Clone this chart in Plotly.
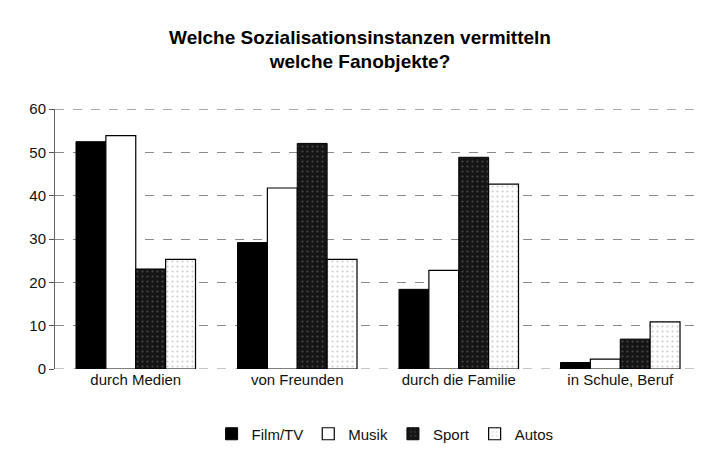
import plotly.graph_objects as go

categories = ["durch Medien", "von Freunden", "durch die Familie", "in Schule, Beruf"]
film_tv = [52.5, 29.2, 18.4, 1.5]
musik = [53.9, 41.8, 22.8, 2.3]
sport = [23.1, 52.1, 48.9, 6.9]
autos = [25.3, 25.3, 42.7, 10.9]
y_ticks = [0, 10, 20, 30, 40, 50, 60]

fig = go.Figure()
fig.add_trace(go.Bar(name="Film/TV", x=categories, y=film_tv,
                     marker=dict(color="#000000", line=dict(color="#000000", width=1))))
fig.add_trace(go.Bar(name="Musik", x=categories, y=musik,
                     marker=dict(color="#ffffff", line=dict(color="#000000", width=1.2))))
fig.add_trace(go.Bar(name="Sport", x=categories, y=sport,
                     marker=dict(color="#111111", line=dict(color="#000000", width=1),
                                 pattern=dict(shape=".", bgcolor="#151515", fgcolor="#777777",
                                              size=5, solidity=0.15))))
fig.add_trace(go.Bar(name="Autos", x=categories, y=autos,
                     marker=dict(color="#ffffff", line=dict(color="#000000", width=1.2),
                                 pattern=dict(shape=".", bgcolor="#ffffff", fgcolor="#9a9a9a",
                                              size=5, solidity=0.15))))

# dashed reference lines at the range ends (bottom and top), like the scanned original
for yv in (y_ticks[0], y_ticks[-1]):
    fig.add_shape(type="line", xref="paper", x0=0, x1=1, yref="y", y0=yv, y1=yv,
                  line=dict(color="#8a8a8a", width=1, dash="dash"), layer="below")

fig.update_layout(
    width=704, height=441,
    margin=dict(l=47, r=11, t=101, b=80, autoexpand=False),
    paper_bgcolor="white", plot_bgcolor="white",
    barmode="group", bargap=0.26, bargroupgap=0,
    font=dict(family="Liberation Sans, Arial, sans-serif", size=15, color="#111111"),
    title=dict(text="<b>Welche Sozialisationsinstanzen vermitteln<br>welche Fanobjekte?</b>",
               x=0.5, xanchor="center", y=0.919, yanchor="middle",
               font=dict(size=19, color="#000000")),
    showlegend=True,
    legend=dict(orientation="h", x=0.511, xanchor="center", y=-0.25, yanchor="middle",
                font=dict(size=15), itemwidth=30, traceorder="normal",
                bgcolor="rgba(0,0,0,0)", tracegroupgap=0),
    xaxis=dict(showgrid=False, showline=False, ticks="", tickfont=dict(size=15),
               zeroline=False, automargin=False),
    yaxis=dict(range=[0, 60.05], tickvals=y_ticks, showgrid=True, gridcolor="#8a8a8a",
               griddash="dash", gridwidth=1, showline=True, linecolor="#666666",
               linewidth=1, ticks="outside", ticklen=5, tickcolor="#555555",
               tickfont=dict(size=15), zeroline=False, automargin=False),
)

fig.write_html("out.html")
